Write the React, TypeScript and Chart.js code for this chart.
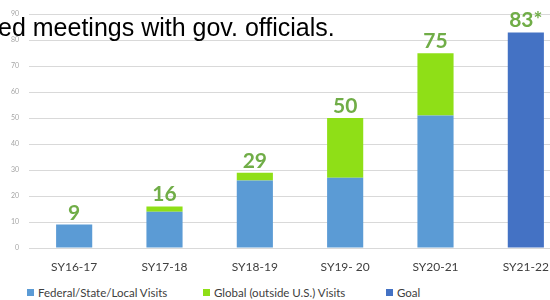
import React, { useEffect, useRef } from "react";
import { Chart, registerables } from "chart.js";

Chart.register(...registerables);

const categories = ["SY16-17", "SY17-18", "SY18-19", "SY19- 20", "SY20-21", "SY21-22"];
const federalVisits = [9, 14, 26, 27, 51, null];
const globalVisits = [null, 2, 3, 23, 24, null];
const goalVisits = [null, null, null, null, null, 83];
const totalLabels = ["9", "16", "29", "50", "75", "83*"];
const totals = [9, 16, 29, 50, 75, 83];
const yTicks = { min: 0, max: 90, step: 10 };

const BLUE = "#5B9BD5";
const GREEN = "#8FDF17";
const GOAL = "#4472C4";
const LABEL_GREEN = "#70AD47";

const legendItems = [
  { label: "Federal/State/Local Visits", color: BLUE, left: 27 },
  { label: "Global (outside U.S.) Visits", color: GREEN, left: 203 },
  { label: "Goal", color: GOAL, left: 386 },
];

const totalsPlugin = {
  id: "totals",
  afterDatasetsDraw(chart: any) {
    const { ctx, scales } = chart;
    ctx.save();
    ctx.fillStyle = LABEL_GREEN;
    ctx.font = "bold 21px Lato";
    ctx.textAlign = "center";
    ctx.textBaseline = "alphabetic";
    totals.forEach((t, i) => {
      const x = scales.x.getPixelForValue(i);
      const y = scales.y.getPixelForValue(t);
      ctx.fillText(totalLabels[i], x, y - 5);
    });
    ctx.restore();
  },
};

export default function App() {
  const ref = useRef<HTMLCanvasElement>(null);
  useEffect(() => {
    if (!ref.current) return;
    const chart = new Chart(ref.current, {
      type: "bar",
      data: {
        labels: categories,
        datasets: [
          { label: "Federal/State/Local Visits", data: federalVisits as any, backgroundColor: BLUE },
          { label: "Global (outside U.S.) Visits", data: globalVisits as any, backgroundColor: GREEN },
          { label: "Goal", data: goalVisits as any, backgroundColor: GOAL },
        ],
      },
      options: {
        responsive: false,
        animation: false,
        devicePixelRatio: 1,
        datasets: { bar: { categoryPercentage: 1, barPercentage: 0.4 } },
        layout: { padding: { top: 13, right: 4, bottom: 0, left: 0 } },
        plugins: { legend: { display: false }, tooltip: { enabled: false } },
        scales: {
          x: {
            stacked: true,
            grid: { display: false, drawTicks: false },
            border: { display: false },
            ticks: { padding: 12, color: "#404040", font: { family: "Lato", size: 12 } },
            afterFit: (s: any) => { s.height = 28; },
          },
          y: {
            stacked: true,
            min: yTicks.min,
            max: yTicks.max,
            ticks: { stepSize: yTicks.step, padding: 10, color: "#a6a6a6", font: { family: "Lato", size: 7 } },
            grid: { color: "#d9d9d9", drawTicks: false },
            border: { display: false },
            afterFit: (s: any) => { s.width = 29; },
          },
        },
      },
      plugins: [totalsPlugin],
    });
    return () => chart.destroy();
  }, []);

  return (
    <div style={{ position: "fixed", left: 0, top: 0, width: 550, height: 300, overflow: "hidden", background: "#fff" }}>
      <canvas ref={ref} width={575} height={276} style={{ position: "absolute", left: 0, top: 0 }} />
      <div
        style={{
          position: "absolute",
          left: -2,
          top: 15,
          fontFamily: "'Liberation Sans', Arial, sans-serif",
          fontSize: 25,
          lineHeight: "25px",
          color: "#000",
          whiteSpace: "nowrap",
        }}
      >
        ed meetings with gov. officials.
      </div>
      {legendItems.map((it) => (
        <div
          key={it.label}
          style={{
            position: "absolute",
            left: it.left,
            top: 285,
            height: 14,
            display: "flex",
            alignItems: "center",
            fontFamily: "Lato, sans-serif",
            fontSize: 11.5,
            color: "#404040",
            whiteSpace: "nowrap",
          }}
        >
          <span style={{ width: 7, height: 7, background: it.color, marginRight: 4, display: "inline-block" }} />
          {it.label}
        </div>
      ))}
    </div>
  );
}
